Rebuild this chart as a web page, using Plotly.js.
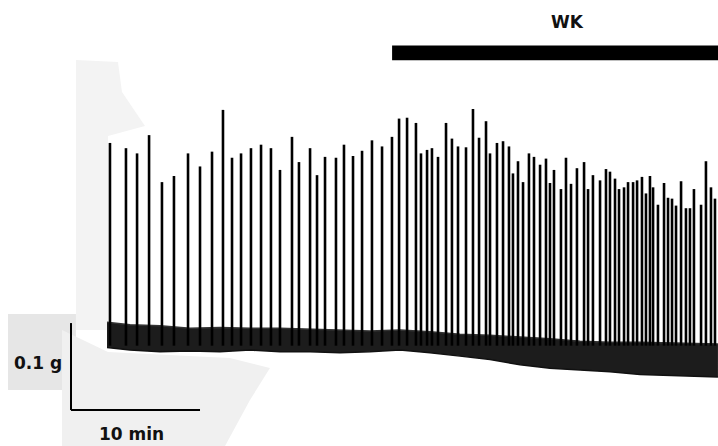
<!DOCTYPE html>
<html>
<head>
<meta charset="utf-8">
<script src="https://cdn.plot.ly/plotly-3.0.1.min.js"></script>
<style>html,body{margin:0;padding:0;background:#fff;}#chart{width:718px;height:446px;}</style>
</head>
<body>
<div id="chart"></div>
<script>
// ---- Data (time in min, force in g) ----
const spikeTimes = [0.23,1.47,2.33,3.26,4.26,5.19,6.28,7.21,8.14,8.99,9.69,10.39,11.16,11.94,12.71,13.41,14.34,14.88,15.74,16.28,16.90,17.75,18.37,19.07,19.77,20.54,21.32,22.09,22.64,23.26,23.95,24.34,24.81,25.19,25.66,26.28,26.74,27.21,27.83,28.37,28.84,29.38,29.69,30.23,30.70,31.16,31.47,31.86,32.25,32.71,33.10,33.57,34.03,34.34,34.65,35.19,35.58,35.97,36.43,36.98,37.29,37.67,38.22,38.68,38.99,39.38,39.69,40.08,40.39,40.78,41.09,41.47,41.78,42.09,42.33,42.71,43.18,43.49,43.80,44.11,44.50,44.88,45.19,45.50,46.05,46.43,46.82,47.13];
const spikePeaks = [0.238,0.232,0.226,0.247,0.193,0.200,0.226,0.211,0.228,0.276,0.221,0.226,0.232,0.236,0.232,0.207,0.245,0.216,0.232,0.201,0.222,0.221,0.236,0.223,0.229,0.241,0.234,0.245,0.266,0.267,0.261,0.226,0.230,0.232,0.222,0.261,0.243,0.234,0.233,0.277,0.244,0.263,0.226,0.238,0.240,0.234,0.203,0.217,0.193,0.226,0.222,0.213,0.220,0.192,0.207,0.185,0.221,0.191,0.209,0.216,0.185,0.201,0.195,0.208,0.205,0.197,0.185,0.187,0.193,0.193,0.195,0.199,0.180,0.200,0.187,0.167,0.192,0.175,0.174,0.166,0.194,0.163,0.163,0.185,0.167,0.217,0.187,0.174];
const bandTimes  = [0,1.78,4.11,6.43,8.76,11.09,13.41,15.74,18.06,20.39,22.71,25.04,27.36,29.69,32.02,34.34,36.67,38.99,41.32,43.64,45.97,47.36];
const bandTop    = [0.032,0.029,0.028,0.025,0.026,0.025,0.025,0.024,0.023,0.022,0.023,0.021,0.018,0.017,0.015,0.013,0.010,0.009,0.009,0.008,0.007,0.007];
const bandBottom = [0.003,0.000,-0.002,-0.001,-0.002,0.000,-0.002,-0.002,-0.003,-0.002,0.000,-0.003,-0.007,-0.011,-0.017,-0.021,-0.023,-0.025,-0.028,-0.029,-0.030,-0.031];
const spikeBase = 0.005;
const wkLabel = "WK";
const wkStart = 22.1, wkEnd = 48;
const scaleLabelY = "0.1 g", scaleLabelX = "10 min";
const scaleT0 = -2.79, scaleG0 = -0.069, scaleDT = 10, scaleDG = 0.1;

// ---- Build traces ----
const sx = [], sy = [];
spikeTimes.forEach((t, i) => { sx.push(t, t, null); sy.push(spikeBase, spikePeaks[i], null); });

const traces = [
  {x: bandTimes, y: bandBottom, mode: 'lines', line: {color: '#111', width: 1.5}, hoverinfo: 'skip'},
  {x: bandTimes, y: bandTop, mode: 'lines', fill: 'tonexty', fillcolor: '#1c1c1c', line: {color: '#333', width: 1.5}, hoverinfo: 'skip'},
  {x: sx, y: sy, mode: 'lines', line: {color: '#000', width: 2.6}, connectgaps: false, hoverinfo: 'skip'}
];

// pixel -> paper helpers for scan-background decoration
const W = 718, H = 446;
const px = v => (v / W).toFixed(4), py = v => (1 - v / H).toFixed(4);
const poly = pts => 'M ' + pts.map(p => px(p[0]) + ',' + py(p[1])).join(' L ') + ' Z';

const shapes = [
  {type: 'path', xref: 'paper', yref: 'paper', layer: 'below', line: {width: 0}, fillcolor: '#f3f3f3',
   path: poly([[76,60],[118,62],[122,92],[145,126],[108,136],[108,330],[76,330]])},
  {type: 'path', xref: 'paper', yref: 'paper', layer: 'below', line: {width: 0}, fillcolor: '#e6e6e6',
   path: poly([[8,314],[76,314],[76,390],[8,390]])},
  {type: 'path', xref: 'paper', yref: 'paper', layer: 'below', line: {width: 0}, fillcolor: '#f0f0f0',
   path: poly([[62,330],[108,352],[230,358],[270,368],[250,400],[225,446],[62,446]])},
  {type: 'rect', xref: 'x', yref: 'y', x0: wkStart, x1: wkEnd, y0: 0.333, y1: 0.350, fillcolor: '#000', line: {width: 0}},
  {type: 'line', xref: 'x', yref: 'y', x0: scaleT0, x1: scaleT0, y0: scaleG0, y1: scaleG0 + scaleDG, line: {color: '#000', width: 2}},
  {type: 'line', xref: 'x', yref: 'y', x0: scaleT0, x1: scaleT0 + scaleDT, y0: scaleG0, y1: scaleG0, line: {color: '#000', width: 2}}
];

const font = {family: 'DejaVu Sans', color: '#111', size: 16};
const annotations = [
  {text: '<b>' + wkLabel + '</b>', xref: 'paper', yref: 'paper', x: +px(567.5), y: +py(21.7), showarrow: false, xanchor: 'center', yanchor: 'middle', font: Object.assign({}, font, {size: 17})},
  {text: '<b>' + scaleLabelY + '</b>', xref: 'paper', yref: 'paper', x: +px(38.5), y: +py(363), showarrow: false, xanchor: 'center', yanchor: 'middle', font: Object.assign({}, font, {size: 17})},
  {text: '<b>' + scaleLabelX + '</b>', xref: 'paper', yref: 'paper', x: +px(131.5), y: +py(434), showarrow: false, xanchor: 'center', yanchor: 'middle', font: Object.assign({}, font, {size: 17})}
];

const layout = {
  width: W, height: H,
  margin: {l: 0, r: 0, t: 0, b: 0},
  paper_bgcolor: '#fff', plot_bgcolor: 'rgba(0,0,0,0)',
  showlegend: false,
  xaxis: {range: [-8.295, 47.364], visible: false, fixedrange: true},
  yaxis: {range: [-0.1103, 0.4023], visible: false, fixedrange: true},
  shapes: shapes, annotations: annotations
};
Plotly.newPlot('chart', traces, layout, {staticPlot: true, displayModeBar: false});
</script>
</body>
</html>
